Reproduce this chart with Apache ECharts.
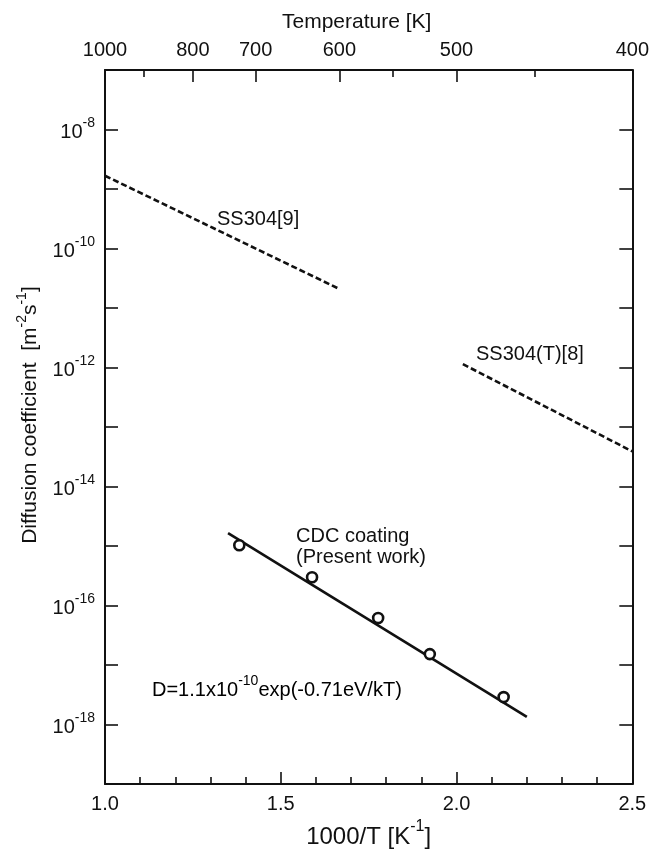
<!DOCTYPE html>
<html><head><meta charset="utf-8">
<script src="https://cdn.jsdelivr.net/npm/echarts@6/dist/echarts.min.js"></script>
<style>html,body{margin:0;padding:0;background:#fff}#c{width:652px;height:854px}</style>
</head><body><div id="c"></div>
<script>
// ---- data (x = 1000/T [1/K], y = D [m^2/s]) ----
const invT_ss304_9 = [1.0, 1.666];
const D_ss304_9 = [1.67e-9, 2.1e-11];
const invT_ss304T_8 = [2.018, 2.5];
const D_ss304T_8 = [1.14e-12, 3.9e-14];
const invT_cdcFit = [1.35, 2.2];
const D_cdcFit = [1.65e-15, 1.35e-18];
const invT_cdc = [1.382, 1.589, 1.777, 1.924, 2.134];
const D_cdc = [1.03e-15, 3.0e-16, 6.2e-17, 1.53e-17, 2.9e-18];
// ---- tick definitions ----
const topTempLabels = [1000, 800, 700, 600, 500, 400];
const topTempMinor = [900, 550, 450];
const yLabelExponents = [-18, -16, -14, -12, -10, -8];
const yTickExponents = [-19, -18, -17, -16, -15, -14, -13, -12, -11, -10, -9, -8, -7];

const FONT = '"Liberation Sans", Arial, Helvetica, sans-serif';
const INK = '#111';
const pairs = (xs, ys) => xs.map((x, i) => [x, ys[i]]);
const yLabelVals = yLabelExponents.map(e => Math.pow(10, e));
const yTickVals = yTickExponents.map(e => Math.pow(10, e));

const chart = echarts.init(document.getElementById('c'), null, {renderer: 'canvas'});
const lineStyleAxis = {show: true, lineStyle: {color: INK, width: 2}};
const supRich = {
  b: {fontSize: 20, lineHeight: 26, verticalAlign: 'bottom', color: INK, fontFamily: FONT},
  s: {fontSize: 14, lineHeight: 10, verticalAlign: 'top', color: INK, fontFamily: FONT}
};

chart.setOption({
  animation: false,
  backgroundColor: '#fff',
  textStyle: {fontFamily: FONT, color: INK},
  grid: {left: 105, right: 19, top: 70, bottom: 68, containLabel: false},
  xAxis: [
    {
      type: 'value', position: 'bottom', min: 1.0, max: 2.5, interval: 0.5,
      axisLine: lineStyleAxis,
      axisTick: {show: true, inside: true, length: 12, lineStyle: {color: INK, width: 1.6}},
      minorTick: {show: true, splitNumber: 5, length: 7, lineStyle: {color: INK, width: 1.6}},
      splitLine: {show: false}, minorSplitLine: {show: false},
      axisLabel: {fontSize: 20, color: INK, margin: 10, formatter: v => v.toFixed(1)},
      name: '{b|1000/T [K}{s|-1}{b|]}', nameLocation: 'middle', nameGap: 34,
      nameTextStyle: {rich: {
        b: {fontSize: 24, lineHeight: 30, verticalAlign: 'bottom', color: INK, fontFamily: FONT},
        s: {fontSize: 16, lineHeight: 12, verticalAlign: 'top', color: INK, fontFamily: FONT}
      }}
    },
    {
      type: 'value', position: 'top', min: 1.0, max: 2.5,
      axisLine: lineStyleAxis,
      axisTick: {show: true, inside: true, length: 12, lineStyle: {color: INK, width: 1.6},
        customValues: topTempLabels.map(t => 1000 / t)},
      splitLine: {show: false},
      axisLabel: {fontSize: 20, color: INK, margin: 10,
        customValues: topTempLabels.map(t => 1000 / t),
        formatter: v => String(Math.round(1000 / v))},
      name: 'Temperature [K]', nameLocation: 'middle', nameGap: 37,
      nameTextStyle: {fontSize: 21, color: INK, padding: [0, 24, 0, 0]}
    },
    {
      type: 'value', position: 'top', min: 1.0, max: 2.5,
      axisLine: {show: false},
      axisTick: {show: true, inside: true, length: 7, lineStyle: {color: INK, width: 1.6},
        customValues: topTempMinor.map(t => 1000 / t)},
      splitLine: {show: false},
      axisLabel: {show: false}
    }
  ],
  yAxis: [
    {
      type: 'log', logBase: 10, position: 'left', min: 1e-19, max: 1e-7,
      axisLine: lineStyleAxis,
      axisTick: {show: true, inside: true, length: 13, lineStyle: {color: INK, width: 1.6},
        customValues: yTickVals},
      splitLine: {show: false}, minorTick: {show: false},
      axisLabel: {margin: 10, customValues: yLabelVals,
        formatter: v => '{b|10}{s|' + Math.round(Math.log10(v)) + '}', rich: supRich},
      name: '{b|Diffusion coefficient  [m}{s|-2}{b|s}{s|-1}{b|]}',
      nameLocation: 'middle', nameRotate: 90, nameGap: 64,
      nameTextStyle: {padding: [0, 0, 0, 24], rich: {
        b: {fontSize: 21, lineHeight: 26, verticalAlign: 'bottom', color: INK, fontFamily: FONT},
        s: {fontSize: 14, lineHeight: 10, verticalAlign: 'top', color: INK, fontFamily: FONT}
      }}
    },
    {
      type: 'log', logBase: 10, position: 'right', min: 1e-19, max: 1e-7,
      axisLine: lineStyleAxis,
      axisTick: {show: true, inside: true, length: 13, lineStyle: {color: INK, width: 1.6},
        customValues: yTickVals},
      splitLine: {show: false},
      axisLabel: {show: false}
    }
  ],
  series: [
    {name: 'SS304[9]', type: 'line', xAxisIndex: 0, yAxisIndex: 0, data: pairs(invT_ss304_9, D_ss304_9),
     showSymbol: false, lineStyle: {color: INK, width: 2.6, type: [6, 3]}},
    {name: 'SS304(T)[8]', type: 'line', xAxisIndex: 0, yAxisIndex: 0, data: pairs(invT_ss304T_8, D_ss304T_8),
     showSymbol: false, lineStyle: {color: INK, width: 2.6, type: [6, 3]}},
    {name: 'CDC fit', type: 'line', xAxisIndex: 0, yAxisIndex: 0, data: pairs(invT_cdcFit, D_cdcFit),
     showSymbol: false, lineStyle: {color: INK, width: 2.6}},
    {name: 'CDC coating', type: 'scatter', xAxisIndex: 0, yAxisIndex: 0, data: pairs(invT_cdc, D_cdc),
     symbol: 'circle', symbolSize: 10, z: 5,
     itemStyle: {color: '#fff', borderColor: INK, borderWidth: 2.6, opacity: 1}}
  ],
  graphic: [
    {type: 'text', x: 217, y: 219, style: {text: 'SS304[9]', fontSize: 20, fontFamily: FONT, fill: INK, textVerticalAlign: 'middle'}},
    {type: 'text', x: 476, y: 354, style: {text: 'SS304(T)[8]', fontSize: 20, fontFamily: FONT, fill: INK, textVerticalAlign: 'middle'}},
    {type: 'text', x: 296, y: 536, style: {text: 'CDC coating', fontSize: 20, fontFamily: FONT, fill: INK, textVerticalAlign: 'middle'}},
    {type: 'text', x: 296, y: 557, style: {text: '(Present work)', fontSize: 20, fontFamily: FONT, fill: INK, textVerticalAlign: 'middle'}},
    {type: 'text', x: 152, y: 687, style: {
      text: '{b|D=1.1x10}{s|-10}{b|exp(-0.71eV/kT)}', textVerticalAlign: 'middle',
      rich: supRich}}
  ]
});
</script></body></html>
